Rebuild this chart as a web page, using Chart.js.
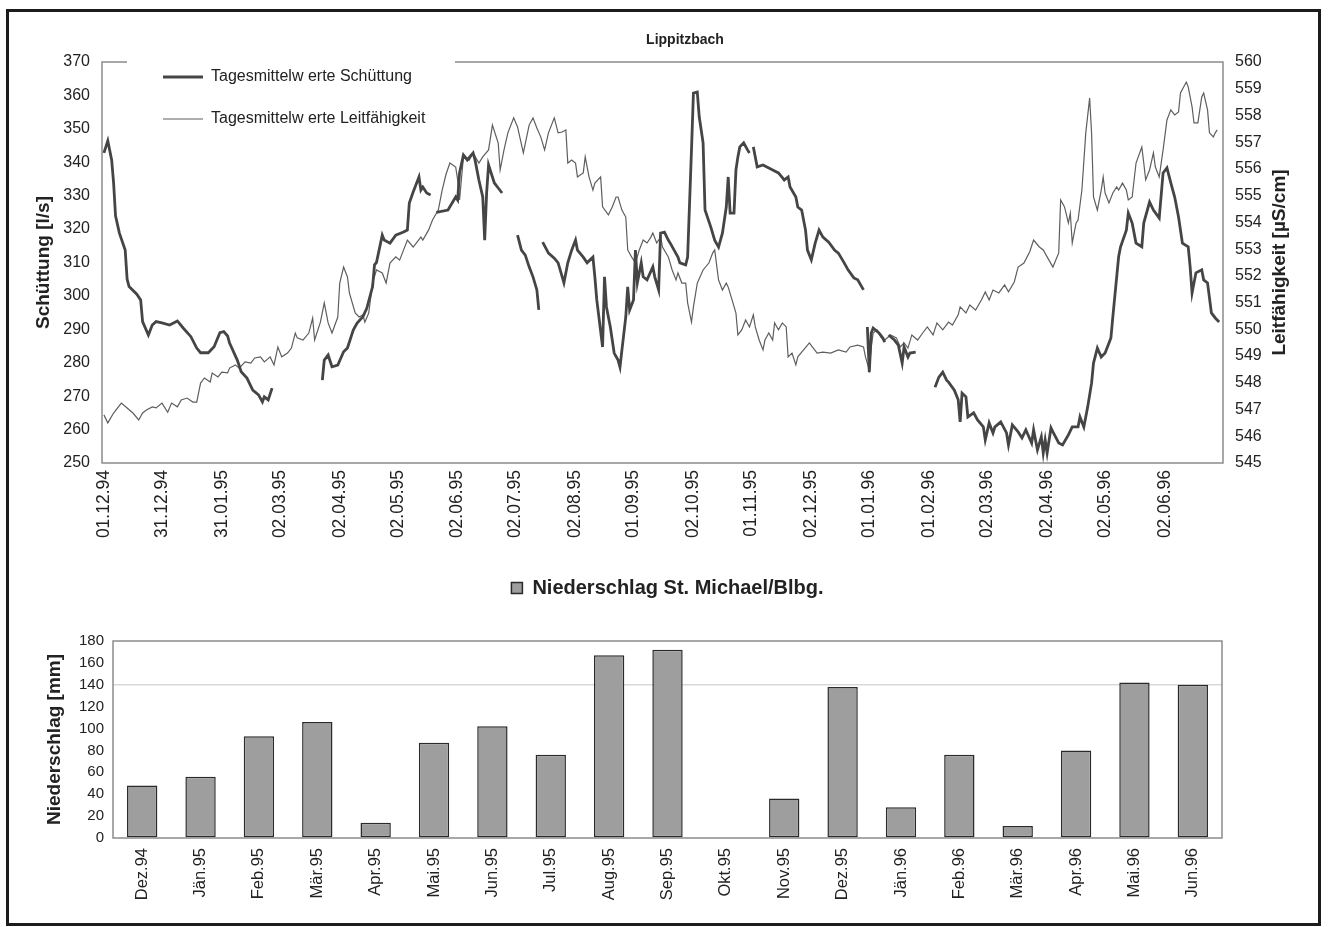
<!DOCTYPE html>
<html>
<head>
<meta charset="utf-8">
<script src="https://cdn.jsdelivr.net/npm/chart.js@4.4.1/dist/chart.umd.min.js"></script>
<style>
html,body{margin:0;padding:0;background:#fff;overflow:hidden;width:1328px;height:927px;}
#frame{position:absolute;left:6px;top:9px;width:1309px;height:911px;border:3px solid #1c1c1c;}
#c1wrap{position:absolute;left:0;top:0;width:1328px;height:560px;}
#c2wrap{position:absolute;left:0;top:560px;width:1328px;height:367px;}
</style>
</head>
<body>
<div id="frame"></div>
<div id="c1wrap"><canvas id="c1"></canvas></div>
<div id="c2wrap"><canvas id="c2"></canvas></div>
<script>
// ---------------- DATA ----------------
const chartTitle = 'Lippitzbach';
const leftTitle = 'Schüttung [l/s]';
const rightTitle = 'Leitfähigkeit [µS/cm]';
const legendLabels = ['Tagesmittelw erte Schüttung', 'Tagesmittelw erte Leitfähigkeit'];

// day offsets from 01.12.94 and their axis labels
const tickDays = [0,30,61,91,122,152,183,213,244,274,305,335,366,396,427,457,488,518,549];
const tickLabels = ['01.12.94','31.12.94','31.01.95','02.03.95','02.04.95','02.05.95','02.06.95','02.07.95','02.08.95','01.09.95','02.10.95','01.11.95','02.12.95','01.01.96','01.02.96','02.03.96','02.04.96','02.05.96','02.06.96'];

// Schüttung [l/s]  : [day, value]  (null = no data)
const schuettung = [
[0,342.8],[2,346.4],[4,340.7],[5,333.8],[6,324.0],[8,318.8],[11,313.7],[12,305.0],[13,302.8],[17,300.5],[19,298.8],[20,292.3],[23,288.3],[25,291.3],[27,292.3],[30,291.9],[34,291.3],[38,292.5],[41,290.4],[45,287.8],[48,284.4],[50,283.0],[54,283.0],[57,284.8],[60,289.0],[62,289.3],[64,288.0],[65,285.9],[69,280.8],[71,277.3],[74,275.4],[77,271.8],[80,270.4],[82,268.3],[83,269.8],[85,268.9],[87,272.4],
[88,null],
[113,274.8],[114,280.8],[116,282.3],[118,278.8],[121,279.3],[124,283.3],[126,284.4],[129,289.8],[131,291.9],[134,293.8],[136,296.3],[139,302.8],[140,309.3],[141,310.0],[144,318.2],[145,316.7],[148,315.8],[151,318.2],[155,319.1],[157,319.7],[158,327.8],[160,331.1],[163,335.6],[164,331.7],[165,332.6],[167,330.8],[169,330.2],
[170,null],
[172,325.0],[178,325.7],[182,329.6],[183,328.7],[184,336.8],[186,342.2],[188,340.7],[191,342.8],[192,340.7],[194,334.7],[196,329.6],[197,316.7],[198,330.8],[199,339.2],[201,335.6],[202,333.8],[204,332.3],[206,330.8],
[207,null],
[214,318.2],[216,313.7],[218,312.2],[220,308.7],[222,305.7],[224,301.8],[225,295.8],
[226,null],
[227,316.1],[230,312.8],[233,311.3],[235,309.9],[238,303.9],[240,309.9],[242,313.7],[244,316.7],[245,313.7],[248,311.6],[250,309.9],[253,311.6],[254,305.7],[255,298.8],[258,284.7],[259,305.7],[260,296.7],[262,290.7],[264,282.9],[266,280.8],[267,278.7],[268,283.8],[270,293.7],[271,302.7],[272,295.8],[274,298.8],[275,313.7],[276,303.9],[278,309.9],[279,305.7],[281,304.8],[284,308.7],[285,305.7],[287,301.8],[288,318.8],[290,319.1],[292,316.7],[293,315.8],[295,313.7],[297,311.6],[298,309.9],[301,309.3],[302,311.6],[304,343.7],[305,360.7],[307,361.0],[308,353.6],[310,345.8],[311,325.7],[314,320.6],[316,316.7],[318,314.6],[320,318.8],[322,326.6],[323,335.6],[324,324.8],[326,324.8],[327,337.7],[328,341.6],[329,344.6],[331,345.8],[333,343.7],[334,342.8],
[335,null],
[336,344.6],[338,338.6],[341,339.2],[343,338.6],[346,337.7],[349,336.8],[352,334.7],[354,335.6],[355,332.6],[358,329.6],[359,326.6],[361,325.7],[363,319.7],[364,313.7],[366,310.8],[368,315.8],[370,319.7],[372,317.6],[375,316.1],[378,313.7],[380,312.8],[383,309.9],[385,307.8],[388,305.4],[390,304.8],[393,301.8],
[394,null],
[395,290.7],[396,277.2],[397,288.9],[398,290.4],[401,288.9],[403,287.4],[404,286.2],
[405,null],
[406,288.3],[409,286.8],[411,285.3],[413,279.9],[414,284.7],[416,281.7],[417,282.9],[420,283.2],
[421,null],
[430,272.7],[432,275.7],[434,277.2],[436,274.8],[437,274.2],[440,271.8],[442,268.9],[443,262.3],[444,270.9],[446,269.8],[447,263.8],[450,265.0],[452,262.9],[455,260.8],[456,256.9],[458,262.0],[460,259.0],[461,260.8],[464,262.3],[467,259.0],[468,255.4],[470,261.4],[473,259.3],[475,257.5],[477,259.9],[480,256.0],[481,259.9],[483,253.9],[485,257.8],[486,253.0],[487,256.9],[488,253.0],[490,260.5],[491,259.3],[494,256.0],[496,255.4],[499,258.4],[501,260.8],[504,260.8],[505,263.8],[507,260.8],[509,266.8],[511,273.9],[512,279.9],[514,284.4],[516,281.7],[518,282.9],[521,287.4],[522,293.7],[524,305.7],[525,311.7],[526,314.7],[529,319.7],[530,324.8],[532,321.8],[534,315.8],[537,314.7],[538,321.8],[541,328.1],[543,325.7],[546,323.3],[548,336.8],[550,338.3],[552,333.8],[554,329.6],[556,323.6],[558,315.8],[561,314.7],[562,308.7],[563,300.9],[565,306.9],[568,307.8],[569,304.8],[571,303.9],[573,294.9],[575,293.4],[577,292.2]
];

// Leitfähigkeit [µS/cm] : [day, value]
const leitfaehigkeit = [
[0,546.8],[2,546.5],[5,546.87],[9,547.24],[12,547.06],[15,546.87],[18,546.61],[20,546.87],[22,546.98],[25,547.1],[27,547.06],[30,547.24],[33,546.9],[35,547.24],[38,547.1],[40,547.36],[43,547.43],[46,547.28],[48,547.28],[50,547.99],[52,548.18],[55,548.03],[56,548.37],[59,548.22],[61,548.4],[64,548.37],[65,548.55],[68,548.67],[70,548.55],[73,548.78],[76,548.74],[78,548.93],[81,548.97],[83,548.78],[86,548.97],[88,548.67],[90,549.34],[92,548.97],[95,549.11],[97,549.3],[99,549.86],[100,549.68],[103,549.6],[106,549.86],[108,550.42],[109,549.6],[112,550.27],[114,550.99],[116,550.24],[118,549.86],[121,550.46],[122,551.73],[124,552.33],[126,551.96],[127,551.36],[130,550.61],[132,550.46],[134,550.54],[135,550.27],[137,550.61],[139,551.73],[141,552.22],[144,552.11],[146,551.73],[148,552.48],[151,552.71],[153,552.59],[157,553.34],[160,553.08],[164,553.45],[165,553.34],[168,553.72],[170,554.09],[173,554.46],[175,555.21],[177,555.8],[179,556.22],[182,556.07],[183,555.6],[184,554.84],[186,556.45],[189,556.33],[191,556.6],[194,556.22],[196,556.45],[199,556.71],[201,557.64],[204,556.97],[205,555.96],[207,556.71],[209,557.35],[212,557.91],[214,557.57],[217,556.6],[220,557.64],[222,557.91],[224,557.53],[226,557.2],[228,556.71],[230,557.35],[233,557.91],[235,557.35],[237,557.38],[239,557.46],[240,556.22],[242,556.33],[244,556.22],[245,555.7],[248,555.85],[249,556.45],[251,555.7],[253,555.21],[254,555.47],[257,555.7],[258,554.58],[261,554.28],[263,554.58],[265,554.95],[266,554.95],[268,554.46],[270,554.2],[271,552.97],[273,552.71],[275,552.48],[277,552.97],[279,553.34],[281,553.23],[283,553.45],[284,553.6],[286,553.23],[288,553.45],[289,553.08],[292,552.71],[294,552.22],[296,551.85],[297,552.11],[299,551.73],[301,551.73],[302,550.99],[304,550.27],[305,550.84],[307,551.73],[310,552.22],[313,552.48],[315,552.86],[316,552.97],[318,551.85],[320,551.47],[322,551.73],[323,551.58],[325,551.1],[327,550.61],[328,549.79],[330,549.98],[332,550.35],[334,550.09],[336,550.54],[337,550.09],[339,549.6],[341,549.23],[342,549.6],[344,549.86],[346,549.6],[347,550.24],[349,549.98],[351,550.24],[353,550.09],[354,548.97],[356,549.11],[358,548.67],[359,548.97],[362,549.23],[365,549.49],[367,549.3],[369,549.11],[372,549.15],[376,549.11],[380,549.23],[384,549.15],[386,549.34],[390,549.41],[393,549.34],[394,548.97],[396,548.48],[397,549.34],[398,549.86],[400,549.98],[402,549.71],[404,549.6],[407,549.79],[410,549.68],[412,549.34],[414,549.49],[416,549.3],[418,549.79],[421,549.6],[424,549.9],[426,550.09],[429,549.79],[431,550.24],[434,549.98],[437,550.27],[439,550.16],[442,550.54],[443,550.84],[446,550.61],[448,550.91],[451,550.72],[454,551.1],[456,551.4],[458,551.1],[460,551.47],[463,551.36],[466,551.66],[468,551.4],[471,551.77],[473,552.33],[476,552.48],[479,552.9],[481,553.34],[484,553.08],[486,552.97],[488,552.71],[491,552.33],[494,552.86],[495,554.84],[497,554.58],[499,553.98],[500,554.35],[501,553.23],[503,553.98],[504,554.09],[506,555.21],[508,557.35],[510,558.65],[511,557.35],[512,554.95],[514,554.46],[516,555.21],[517,555.7],[518,555.1],[520,554.73],[522,555.1],[524,555.33],[525,555.21],[527,555.47],[529,555.21],[530,554.84],[532,554.95],[534,556.22],[537,556.82],[538,556.22],[539,555.59],[541,555.96],[543,556.6],[544,556.07],[546,555.7],[548,556.71],[550,557.83],[552,558.21],[554,558.02],[556,558.13],[557,558.84],[560,559.25],[561,559.07],[563,558.32],[564,557.72],[566,557.72],[568,558.69],[569,558.84],[571,558.21],[572,557.35],[574,557.2],[575,557.35],[576,557.46]
];

// Niederschlag St. Michael/Blbg. [mm], monthly
const barLegend = 'Niederschlag St. Michael/Blbg.';
const barTitle = 'Niederschlag [mm]';
const months = ['Dez.94','Jän.95','Feb.95','Mär.95','Apr.95','Mai.95','Jun.95','Jul.95','Aug.95','Sep.95','Okt.95','Nov.95','Dez.95','Jän.96','Feb.96','Mär.96','Apr.96','Mai.96','Jun.96'];
const niederschlag = [48,56,93,106,14,87,102,76,167,172,null,36,138,28,76,11,80,142,140];

// ---------------- STYLE / PLUGINS ----------------
const FONT = '"Liberation Sans", Arial, Helvetica, sans-serif';
const TXT = '#222222';
Chart.defaults.font.family = FONT;
Chart.defaults.color = TXT;

const plotFrame = {
  id: 'plotFrame',
  beforeDatasetsDraw(chart, args, o) {
    const ctx = chart.ctx, a = chart.chartArea;
    ctx.save();
    ctx.strokeStyle = o.color || '#8a8a8a';
    ctx.lineWidth = o.width || 1.5;
    ctx.beginPath();
    if (o.gap) {
      ctx.moveTo(o.gap[1], a.top); ctx.lineTo(a.right, a.top); ctx.lineTo(a.right, a.bottom);
      ctx.lineTo(a.left, a.bottom); ctx.lineTo(a.left, a.top); ctx.lineTo(o.gap[0], a.top);
    } else {
      ctx.rect(a.left, a.top, a.right - a.left, a.bottom - a.top);
    }
    ctx.stroke();
    ctx.restore();
  }
};

const sideTitle = {
  id: 'sideTitle',
  afterDraw(chart, args, o) {
    if (!o.text) return;
    const ctx = chart.ctx, a = chart.chartArea;
    ctx.save();
    ctx.translate(o.x, (a.top + a.bottom) / 2);
    ctx.rotate(-Math.PI / 2);
    ctx.font = 'bold ' + o.size + 'px ' + FONT;
    ctx.fillStyle = o.color || TXT;
    ctx.textAlign = 'center';
    ctx.textBaseline = 'middle';
    ctx.fillText(o.text, 0, 0);
    ctx.restore();
  }
};

const legendPlace = {
  id: 'legendPlace',
  afterLayout(chart, args, o) {
    const lg = chart.legend;
    if (!lg || o.x === undefined) return;
    lg.left = o.x; lg.top = o.y; lg.right = o.x + 420; lg.bottom = o.y + 300;
    lg.width = 420; lg.height = 300;
  }
};

const legendHeight = {
  id: 'legendHeight',
  beforeInit(chart, args, o) {
    const lg = chart.legend;
    if (!lg || !o.height) return;
    const h = o.height;
    const fit = lg.fit;
    lg.fit = function () { fit.call(this); this.height = h; };
  }
};

// ---------------- TOP CHART ----------------
new Chart(document.getElementById('c1'), {
  type: 'line',
  data: {
    datasets: [
      {
        label: legendLabels[0],
        data: schuettung.map(p => ({ x: p[0], y: p[1] })),
        yAxisID: 'y',
        borderColor: '#454545', backgroundColor: '#454545',
        borderWidth: 2.8, pointBorderWidth: 2.8, pointBorderColor: '#454545',
        pointRadius: 0, tension: 0, spanGaps: false
      },
      {
        label: legendLabels[1],
        data: leitfaehigkeit.map(p => ({ x: p[0], y: p[1] })),
        yAxisID: 'y1',
        borderColor: '#5e5e5e', backgroundColor: '#5e5e5e',
        borderWidth: 1.2, pointBorderWidth: 1.2, pointBorderColor: '#5e5e5e',
        pointRadius: 0, tension: 0
      }
    ]
  },
  options: {
    responsive: true, maintainAspectRatio: false, animation: false, devicePixelRatio: 1, events: [],
    layout: { padding: { left: 30, right: -12, top: 20, bottom: 0 } },
    scales: {
      x: {
        type: 'linear', min: -1, max: 579,
        afterBuildTicks: ax => { ax.ticks = tickDays.map(v => ({ value: v })); },
        afterFit: ax => { ax.height = 97; },
        grid: { display: false, drawTicks: false }, border: { display: false },
        ticks: {
          autoSkip: false, maxRotation: 90, minRotation: 90, padding: 7,
          font: { size: 17.5 }, color: TXT,
          callback: v => { const i = tickDays.indexOf(v); return i >= 0 ? tickLabels[i] : ''; }
        }
      },
      y: {
        position: 'left', min: 250, max: 370,
        afterFit: ax => { ax.width = 72; },
        grid: { display: false, drawTicks: false }, border: { display: false },
        ticks: { stepSize: 10, padding: 12, font: { size: 16 }, color: TXT },
        title: { display: true, text: leftTitle, font: { size: 19, weight: 'bold' }, color: TXT, padding: { top: 2, bottom: 0 } }
      },
      y1: {
        position: 'right', min: 545, max: 560,
        afterFit: ax => { ax.width = 117; },
        grid: { display: false, drawTicks: false }, border: { display: false },
        ticks: { stepSize: 1, padding: 12, font: { size: 16 }, color: TXT }
      }
    },
    plugins: {
      title: { display: true, text: chartTitle, font: { size: 14, weight: 'bold' }, color: TXT, padding: { top: 11.6, bottom: 13.6 } },
      legend: {
        position: 'chartArea', align: 'start',
        labels: { usePointStyle: true, pointStyle: 'line', pointStyleWidth: 40, padding: 26, font: { size: 16 }, color: TXT }
      },
      tooltip: { enabled: false },
      legendPlace: { x: 137, y: 43 },
      plotFrame: { gap: [127, 455], color: '#8c8c8c', width: 1.5 },
      sideTitle: { text: rightTitle, x: 1280, size: 19, color: TXT }
    }
  },
  plugins: [legendPlace, plotFrame, sideTitle]
});

// ---------------- BOTTOM CHART ----------------
new Chart(document.getElementById('c2'), {
  type: 'bar',
  data: {
    labels: months,
    datasets: [{
      label: barLegend,
      data: niederschlag,
      backgroundColor: '#9e9e9e', borderColor: '#2a2a2a', borderWidth: 1.5, borderSkipped: false,
      categoryPercentage: 1, barPercentage: 0.52
    }]
  },
  options: {
    responsive: true, maintainAspectRatio: false, animation: false, devicePixelRatio: 1, events: [],
    layout: { padding: { left: 30, right: 106, top: 8, bottom: 9 } },
    scales: {
      x: {
        offset: true,
        grid: { display: false, drawTicks: false }, border: { display: false },
        afterFit: ax => { ax.height = 80; },
        ticks: { autoSkip: false, maxRotation: 90, minRotation: 90, padding: 10, font: { size: 16.5 }, color: TXT }
      },
      y: {
        min: 0, max: 180,
        afterFit: ax => { ax.width = 83; },
        grid: { drawTicks: false, lineWidth: 1.5, color: c => (c.tick && c.tick.value === 140) ? '#d8d8d8' : 'rgba(0,0,0,0)' },
        border: { display: false },
        ticks: { stepSize: 20, padding: 9, font: { size: 15 }, color: TXT },
        title: { display: true, text: barTitle, font: { size: 19, weight: 'bold' }, color: TXT, padding: { top: 13.6, bottom: 0 } }
      }
    },
    plugins: {
      legend: {
        position: 'top', fullSize: false,
        labels: { boxWidth: 11, boxHeight: 11, padding: 10, font: { size: 20, weight: 'bold' }, color: TXT }
      },
      legendHeight: { height: 73 },
      plotFrame: { color: '#8c8c8c', width: 1.5 },
      tooltip: { enabled: false }
    }
  },
  plugins: [legendHeight, plotFrame]
});
</script>
</body>
</html>
